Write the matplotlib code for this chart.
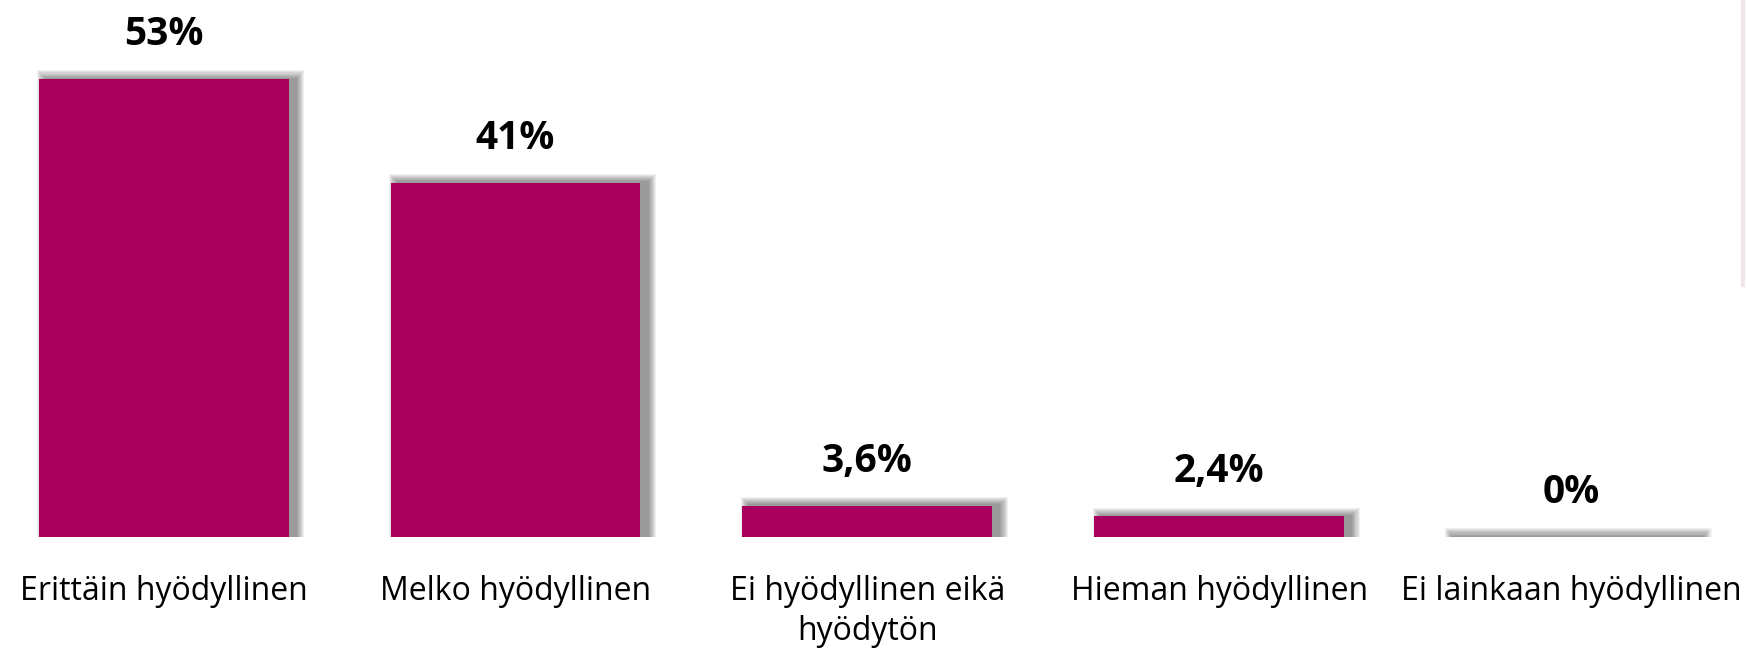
import matplotlib.pyplot as plt
from matplotlib.lines import Line2D

categories = ['Erittäin hyödyllinen', 'Melko hyödyllinen', 'Ei hyödyllinen eikä\nhyödytön',
              'Hieman hyödyllinen', 'Ei lainkaan hyödyllinen']
values = [53, 41, 3.6, 2.4, 0]
value_labels = ['53%', '41%', '3,6%', '2,4%', '0%']

bar_color = '#A8005C'

fig = plt.figure(figsize=[17.46, 6.48], dpi=100)
ax = fig.add_axes([0, 0, 1, 1])
x = list(range(len(categories)))

# soft drop shadow behind the bars (several faint layers), leaning up and right
for i in range(8):
    grow = 0.024 - i * 0.003
    ax.bar([p + 0.02 for p in x], [v + 1.0 - i * 0.12 for v in values], width=0.71 + grow * 2,
           bottom=0, color='black', alpha=0.06, linewidth=0, zorder=1)

ax.bar(x, values, width=0.71, color=bar_color, linewidth=0, zorder=2)

for p, v, lab in zip(x, values, value_labels):
    ax.annotate(lab, (p, v), xytext=(0, 18), textcoords='offset points', ha='center', va='bottom',
                fontsize=28, fontweight='bold', family='Open Sans')

for p, lab in zip(x, categories):
    ax.text(p, -4.4, lab, ha='center', va='top', fontsize=23, family='Open Sans', linespacing=1.3)

ax.set_xlim(-0.465, 4.497)
ax.set_ylim(-12.85, 62.15)
ax.axis('off')

# thin pale line at the right edge
fig.add_artist(Line2D([0.998, 0.998], [0.56, 1.0], transform=fig.transFigure, color='#f3e4ec', lw=3))

fig.savefig('out.png', dpi=100)
